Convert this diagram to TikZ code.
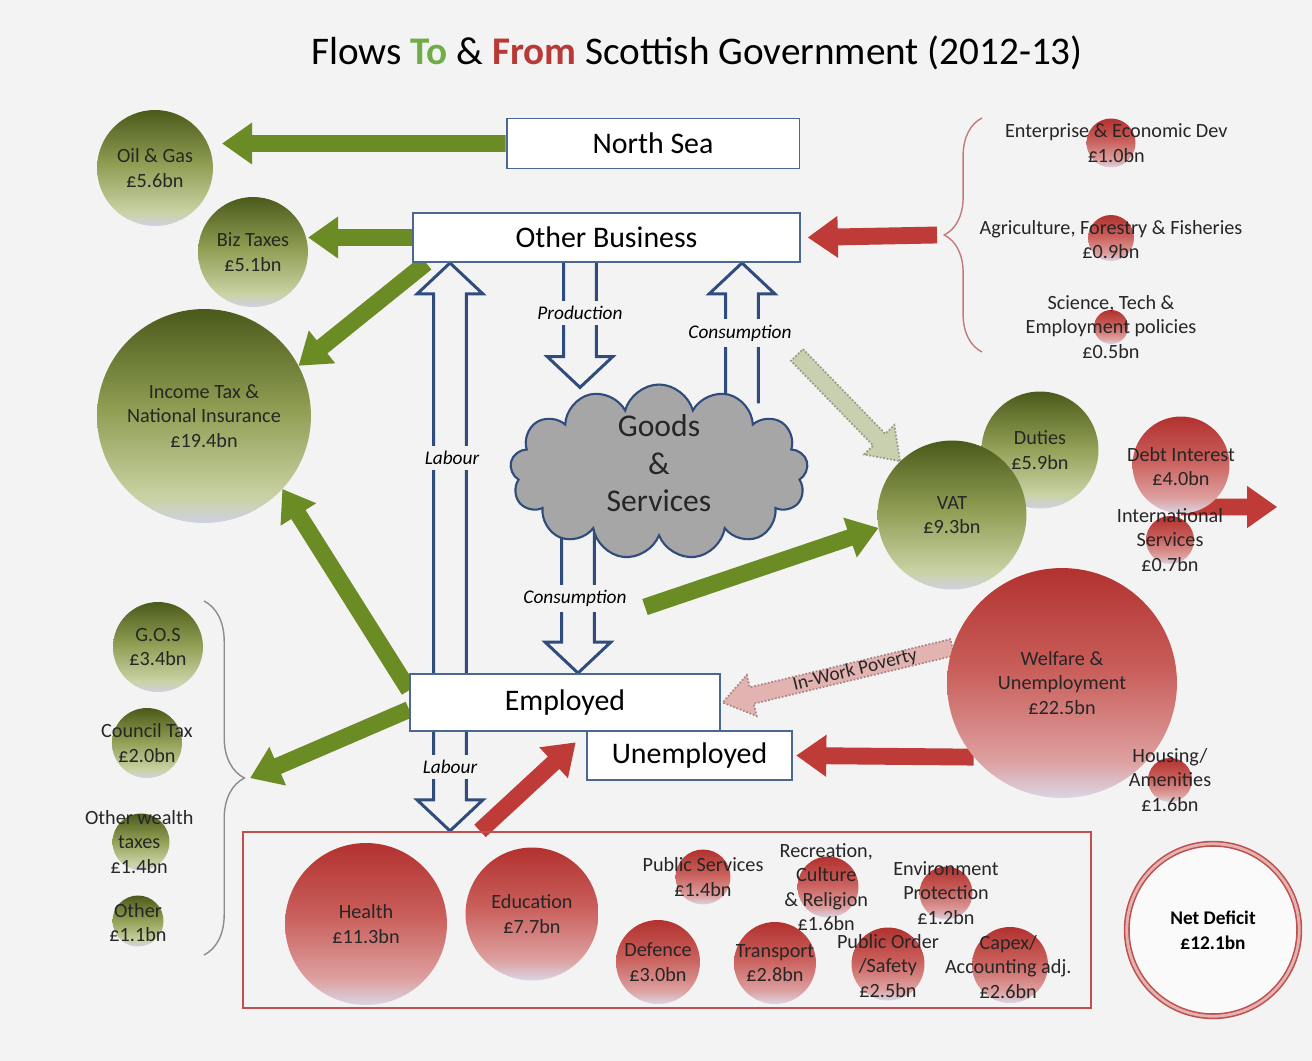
\documentclass[tikz,border=0pt]{standalone}
\usepackage{fontspec}
\setmainfont{Carlito}
\usetikzlibrary{arrows.meta, positioning, calc, shapes.symbols, decorations.pathreplacing}
\definecolor{cbg}{HTML}{F3F3F3}
\definecolor{cnavy}{HTML}{2F4C7C}
\definecolor{cboxline}{HTML}{4A6890}
\definecolor{cgreen}{HTML}{6B8B24}
\definecolor{ctgreen}{HTML}{70AD47}
\definecolor{cred}{HTML}{BF3B37}
\definecolor{ctred}{HTML}{B83A37}
\definecolor{cline}{HTML}{C0504D}
\definecolor{cgrey}{HTML}{A6A6A6}
\definecolor{cbrace}{HTML}{8C8C8C}
\definecolor{crbrace}{HTML}{C47A7A}
\definecolor{cpalegreen}{HTML}{C9D0B0}
\definecolor{cpalepink}{HTML}{E3B3B2}
\definecolor{gtop}{HTML}{4B5A1A}
\definecolor{gmid}{HTML}{8E9D52}
\definecolor{glow}{HTML}{C9D2A4}
\definecolor{gbase}{HTML}{CED1E2}
\definecolor{rtop}{HTML}{B2322F}
\definecolor{rmid}{HTML}{C95E5A}
\definecolor{rlow}{HTML}{DDA09F}
\definecolor{rbase}{HTML}{DAD5E5}
\pgfdeclareverticalshading{greenbub}{100bp}{color(0bp)=(gbase); color(25bp)=(gbase); color(31bp)=(glow); color(52bp)=(gmid); color(75bp)=(gtop); color(100bp)=(gtop)}
\pgfdeclareverticalshading{redbub}{100bp}{color(0bp)=(rbase); color(25bp)=(rbase); color(33bp)=(rlow); color(53bp)=(rmid); color(75bp)=(rtop); color(100bp)=(rtop)}
\pgfdeclarelayer{bg}
\pgfdeclarelayer{flows}
\pgfsetlayers{bg,flows,main}
\tikzset{
  every picture/.style={line width=1.1pt},
  every label/.style={font=\fontsize{11.5}{14}\selectfont, align=center, text=black!85},
  flow shaft/.store in=\flowshaft, flow head/.store in=\flowhead, flow len/.store in=\flowlen,
  flow shaft=9.6pt, flow head=24pt, flow len=17pt,
  flow/.style={fill=#1, draw=none, to path={
    let \p1=(\tikztostart), \p2=(\tikztotarget), \n1={atan2(\y2-\y1,\x2-\x1)} in
    ($(\p1)+({\n1+90}:{0.5*\flowshaft})$)
    -- ($(\p2)+(\n1:-\flowlen)+({\n1+90}:{0.5*\flowshaft})$)
    -- ($(\p2)+(\n1:-\flowlen)+({\n1+90}:{0.5*\flowhead})$)
    -- (\p2)
    -- ($(\p2)+(\n1:-\flowlen)+({\n1-90}:{0.5*\flowhead})$)
    -- ($(\p2)+(\n1:-\flowlen)+({\n1-90}:{0.5*\flowshaft})$)
    -- ($(\p1)+({\n1-90}:{0.5*\flowshaft})$) -- cycle}},
  pale/.style={flow=#1, draw=#1!75!black, densely dotted, line width=1pt},
  hollow/.style={flow shaft=18.7pt, flow head=37.4pt, flow len=17.6pt, draw=cnavy, line width=1.7pt, to path={
    let \p1=(\tikztostart), \p2=(\tikztotarget), \n1={atan2(\y2-\y1,\x2-\x1)} in
    ($(\p1)+({\n1+90}:{0.5*\flowshaft})$)
    -- ($(\p2)+(\n1:-\flowlen)+({\n1+90}:{0.5*\flowshaft})$)
    -- ($(\p2)+(\n1:-\flowlen)+({\n1+90}:{0.5*\flowhead})$)
    -- (\p2)
    -- ($(\p2)+(\n1:-\flowlen)+({\n1-90}:{0.5*\flowhead})$)
    -- ($(\p2)+(\n1:-\flowlen)+({\n1-90}:{0.5*\flowshaft})$)
    -- ($(\p1)+({\n1-90}:{0.5*\flowshaft})$)}},
  box/.style={draw=cboxline, fill=white, line width=1.1pt, inner sep=0pt, font=\fontsize{17}{20}\selectfont},
  gbub/.style={circle, inner sep=0pt, minimum size=#1*0.04cm, shading=greenbub},
  rbub/.style={circle, inner sep=0pt, minimum size=#1*0.04cm, shading=redbub},
  tag/.style={font=\itshape\fontsize{11}{13}\selectfont, fill=cbg, inner sep=3pt},
  brace/.style={decorate, decoration={brace, amplitude=#1}, line width=0.8pt},
}

\begin{document}
\begin{tikzpicture}[x=0.02cm, y=-0.02cm]
  \useasboundingbox (0,0) rectangle (1312,1061);
  \begin{pgfonlayer}{bg}
    \fill[cbg] (0,0) rectangle (1312,1061);
  \end{pgfonlayer}

  \node[font=\fontsize{22.3}{26}\selectfont] (title) at (697,53) {Flows \textbf{\textcolor{ctgreen}{To}} \& \textbf{\textcolor{ctred}{From}} Scottish Government (2012-13)};

  % sectors
  \node[box, minimum width=5.86cm, minimum height=1cm] (nsea) at (653,143.5) {North Sea};
  \node[box, minimum width=7.74cm, minimum height=0.98cm] (obiz) at (606.5,237.5) {Other Business};
  \node[box, minimum width=6.2cm, minimum height=1.14cm] (emp) at (565,702.5) {Employed};
  \node[box, minimum width=4.1cm, minimum height=0.98cm] (unemp) at (689.5,755.5) {Unemployed};
  \node[cloud, cloud puffs=13, aspect=1.7, draw=cnavy, fill=cgrey, line width=1.2pt, inner sep=0pt,
        minimum width=5.96cm, minimum height=3.5cm,
        label={[font=\fontsize{18}{21.5}\selectfont, yshift=5pt]center:{Goods\\\&\\Services}}] (goods) at (659,472) {};
  \node[draw=cline, line width=1.3pt, minimum width=16.96cm, minimum height=3.52cm, inner sep=0pt] (spend) at (667,920) {};

  % revenue
  \node[gbub=58, label={center:{Oil \& Gas\\£5.6bn}}] (oil) at (155,168) {};
  \node[gbub=55, label={center:{Biz Taxes\\£5.1bn}}] (biz) at (253,252) {};
  \node[gbub=107, label={center:{Income Tax \&\\National Insurance\\£19.4bn}}] (inc) at (204,416) {};
  \node[gbub=58.5, label={center:{Duties\\£5.9bn}}] (duty) at (1040,450) {};
  \node[gbub=74.5, label={center:{VAT\\£9.3bn}}] (vat) at (952,515) {};
  \node[gbub=45, label={center:{G.O.S\\£3.4bn}}] (gos) at (158,647) {};
  \node[gbub=35, label={center:{Council Tax\\£2.0bn}}] (ctax) at (147,743) {};
  \node[gbub=28.5, label={[xshift=-1pt]center:{Other wealth\\taxes\\£1.4bn}}] (wlth) at (141,842) {};
  \node[gbub=25.5, label={[yshift=-1pt]center:{Other\\£1.1bn}}] (othr) at (138,921) {};

  % spending
  \node[rbub=24.5, label={[xshift=3pt]center:{Enterprise \& Economic Dev\\£1.0bn}}] (ent) at (1111,143) {};
  \node[rbub=23, label={[yshift=-1pt]center:{Agriculture, Forestry \& Fisheries\\£0.9bn}}] (agri) at (1111,238) {};
  \node[rbub=17, label={center:{Science, Tech \&\\Employment policies\\£0.5bn}}] (sci) at (1111,327) {};
  \node[rbub=48.5, label={[yshift=-1pt]center:{Debt Interest\\£4.0bn}}] (debt) at (1181,465) {};
  \node[rbub=24, label={center:{International\\Services\\£0.7bn}}] (intl) at (1170,540) {};
  \node[rbub=115, label={center:{Welfare \&\\Unemployment\\£22.5bn}}] (welf) at (1062,683) {};
  \node[rbub=22, label={center:{Housing/\\Amenities\\£1.6bn}}] (hous) at (1170,780) {};
  \node[rbub=81, label={center:{Health\\£11.3bn}}] (hlth) at (366,924) {};
  \node[rbub=66.5, label={center:{Education\\£7.7bn}}] (educ) at (532,914) {};
  \node[rbub=27.5, label={center:{Public Services\\£1.4bn}}] (pubs) at (703,877) {};
  \node[rbub=30.5, label={[xshift=-1pt]center:{Recreation,\\Culture\\\& Religion\\£1.6bn}}] (recr) at (828,887) {};
  \node[rbub=26.5, label={center:{Environment\\Protection\\£1.2bn}}] (env) at (946,893) {};
  \node[rbub=42, label={center:{Defence\\£3.0bn}}] (def) at (658,962) {};
  \node[rbub=41, label={center:{Transport\\£2.8bn}}] (trn) at (775,963) {};
  \node[rbub=36.5, label={[yshift=-1pt]center:{Public Order\\/Safety\\£2.5bn}}] (ord) at (888,964) {};
  \node[rbub=38, label={[xshift=-1pt, yshift=-1pt]center:{Capex/\\Accounting adj.\\£2.6bn}}] (cap) at (1010,965) {};
  \node[circle, minimum size=3.45cm, inner sep=0pt, fill=white!60!cbg, draw=cline, double=cpalepink, double distance=1.6pt, line width=0.9pt,
        align=center, font=\bfseries\fontsize{11}{14}\selectfont] (net) at (1213,930) {Net Deficit\\£12.1bn};

  \draw[brace=21.5pt, crbrace] (982,352) -- (982,118);
  \draw[brace=23pt, cbrace] (204,601) -- (204,955);
  \coordinate (fundbrace) at (944,235);
  \coordinate (taxbrace) at (245,778);
  \coordinate (abroad) at (1277,507);
  \coordinate (vattail) at (645,607);
  \coordinate (paletail) at (797,355);

  \node[tag] (lab1) at (452,458) {Labour};
  \node[tag] (prod) at (580,313) {Production};
  \node[tag] (cons1) at (740,333) {Consumption};
  \node[tag] (cons2) at (575,598) {Consumption};
  \node[tag] (lab2) at (450,767) {Labour};

  \begin{pgfonlayer}{flows}
    % money in
    \path[flow=cgreen] (nsea.west) to ($(oil.east |- nsea.west)+(9,0)$);
    \path[flow=cgreen] (obiz.west) to (biz.east |- obiz.west);
    \path[flow=cgreen] ([xshift=8pt]obiz.south west) to (inc.28);
    \path[flow=cgreen] ([yshift=7pt]emp.west) to (inc.317);
    \path[flow=cgreen] ([yshift=-4pt]emp.west) to ([xshift=3pt]taxbrace);
    \path[flow=cgreen] (vattail) to (vat.190);
    \path[pale=cpalegreen] (paletail) to (vat.134);
    % money out
    \path[flow=cred] ([xshift=-4pt]fundbrace) to ([xshift=4pt]obiz.east);
    \path[flow=cred] (debt.center |- abroad) to (abroad);
    \path[flow=cred] (welf.220) to ([xshift=2pt]unemp.east);
    \path[flow=cred] (480,0 |- spend.north) to ([xshift=6pt, yshift=-6pt]emp.south);
    \path[pale=cpalepink] (welf.162) to ([xshift=1pt]emp.east);
    % goods and labour
    \draw[hollow] (450,0 |- emp.north) to (450,0 |- obiz.south);
    \draw[hollow] (580,0 |- obiz.south) to ($(580,0 |- goods.north)+(0,4)$);
    \draw[hollow] ($(742,0 |- goods.north)+(0,20)$) to (742,0 |- obiz.south);
    \draw[hollow] ($(578,0 |- goods.south)-(0,20)$) to (578,0 |- emp.north);
    \draw[hollow] (450,0 |- emp.south) to (450,0 |- spend.north);
  \end{pgfonlayer}

  \node[rotate=14, font=\fontsize{11}{13}\selectfont, text=black!85, inner sep=1pt] (iwp) at ($(welf.162)!0.42!(emp.east)$) {In-Work Poverty};
\end{tikzpicture}
\end{document}
